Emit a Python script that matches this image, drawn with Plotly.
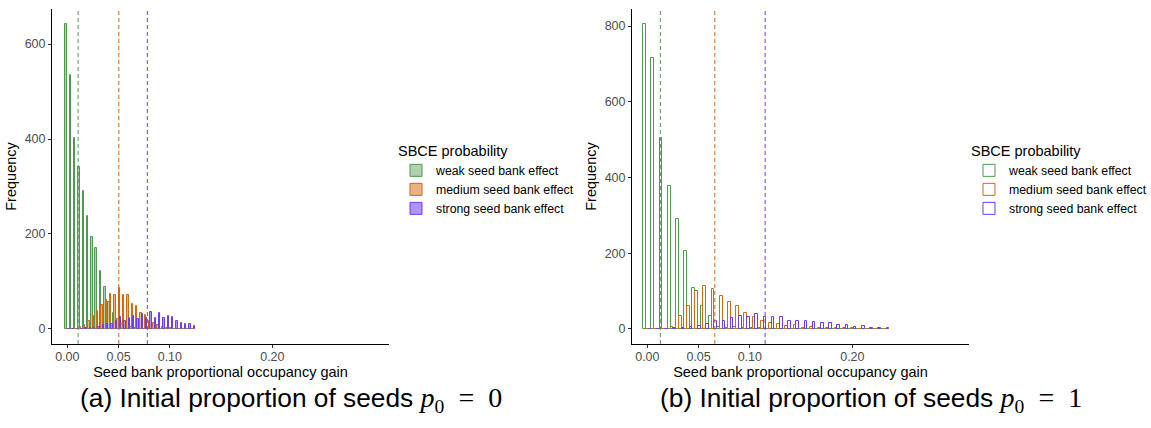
import plotly.graph_objects as go

# ---------------- data ----------------
series_names = ["weak seed bank effect", "medium seed bank effect", "strong seed bank effect"]

# panel (a): initial proportion of seeds p0 = 0
bin_width_a = 0.00422
n_bins_a = 30
weak_a = [643, 534, 402, 341, 291, 237, 194, 170, 122, 88, 57, 34, 20, 10, 6,
          3, 2, 1, 0, 0, 0, 0, 0, 0, 0, 0, 0, 0, 0, 0]
medium_a = [0, 0, 0, 3, 8, 16, 28, 37, 50, 60, 73, 72, 86, 72, 72,
            52, 49, 34, 29, 16, 13, 7, 3, 2, 1, 0, 0, 0, 0, 0]
strong_a = [0, 0, 0, 0, 1, 1, 2, 4, 7, 10, 11, 16, 24, 17, 22,
            27, 21, 31, 23, 35, 22, 34, 23, 26, 24, 17, 13, 10, 10, 5]
means_a = [0.0105, 0.0502, 0.078]

# panel (b): initial proportion of seeds p0 = 1
bin_width_b = 0.008
n_bins_b = 30
weak_b = [805, 715, 504, 378, 290, 207, 109, 61, 33, 5, 3, 4, 3, 1, 1,
          0, 0, 0, 0, 0, 0, 0, 0, 0, 0, 0, 0, 0, 0, 0]
medium_b = [0, 0, 0, 5, 33, 61, 99, 112, 105, 88, 70, 61, 41, 31, 20,
            15, 13, 7, 9, 3, 4, 3, 2, 2, 1, 1, 0, 0, 0, 0]
strong_b = [0, 0, 0, 1, 2, 4, 7, 12, 20, 22, 28, 35, 32, 39, 31,
            31, 32, 22, 21, 20, 18, 15, 15, 9, 10, 4, 7, 3, 3, 3]
means_b = [0.0127, 0.0658, 0.1149]

x_tickvals = [0.0, 0.05, 0.10, 0.20]
x_ticktext = ["0.00", "0.05", "0.10", "0.20"]
y_ticks_a = [0, 200, 400, 600]
y_ticks_b = [0, 200, 400, 600, 800]

captions = ["(a) Initial proportion of seeds ", "(b) Initial proportion of seeds "]
caption_math = ["0", "1"]

# ---------------- style ----------------
line_colors = ["#4f9a4f", "#d4680f", "#6b3cff"]
fill_colors_a = ["rgba(79,154,79,0.45)", "rgba(212,104,15,0.5)", "rgba(107,60,255,0.55)"]
fill_colors_b = ["rgba(255,255,255,0)"] * 3

W, H = 1151, 428
FONT = "Liberation Sans, Arial, Helvetica, sans-serif"

fig = go.Figure()

panels = [
    (bin_width_a, n_bins_a, [weak_a, medium_a, strong_a], fill_colors_a, "x", "y", "legend"),
    (bin_width_b, n_bins_b, [weak_b, medium_b, strong_b], fill_colors_b, "x2", "y2", "legend2"),
]
for bw, nb, vals, fills, xa, ya, lg in panels:
    centers = [i * bw for i in range(nb)]
    for name, v, lc, fc in zip(series_names, vals, line_colors, fills):
        fig.add_trace(go.Bar(
            x=centers, y=v, name=name, xaxis=xa, yaxis=ya, legend=lg,
            marker=dict(color=fc, line=dict(color=lc, width=1)),
        ))

# dashed mean lines
for means, xr, yr in [(means_a, "x", "y domain"), (means_b, "x2", "y2 domain")]:
    for m, c in zip(means, line_colors):
        fig.add_shape(type="line", xref=xr, yref=yr, x0=m, x1=m, y0=0, y1=1,
                      line=dict(color=c, width=1, dash="4px,3px"))

def px_x(p):
    return p / W

def px_y(p):
    return 1 - p / H

xaxis_common = dict(
    range=[-0.0150, 0.3138], tickvals=x_tickvals, ticktext=x_ticktext,
    showline=True, linecolor="black", linewidth=1, mirror=False,
    ticks="outside", ticklen=3, tickcolor="#333333", tickwidth=1,
    tickfont=dict(size=12.5, color="#4d4d4d", family=FONT),
    ticklabelstandoff=-2,
    showgrid=False, zeroline=False,
    title=dict(text="Seed bank proportional occupancy gain",
               font=dict(size=14.5, color="black", family=FONT), standoff=2),
)
yaxis_common = dict(
    showline=True, linecolor="black", linewidth=1,
    ticks="outside", ticklen=3, tickcolor="#333333", tickwidth=1,
    tickfont=dict(size=12.5, color="#4d4d4d", family=FONT),
    showgrid=False, zeroline=False,
    title=dict(text="Frequency", font=dict(size=14.5, color="black", family=FONT), standoff=4),
)

legend_common = dict(
    xanchor="left", yanchor="top",
    title=dict(text="SBCE probability", font=dict(size=14.5, family=FONT), side="top"),
    font=dict(size=12.3, family=FONT), bgcolor="rgba(0,0,0,0)", tracegroupgap=0,
)

fig.update_layout(
    width=W, height=H,
    margin=dict(l=0, r=0, t=0, b=0, autoexpand=False),
    paper_bgcolor="white", plot_bgcolor="white",
    barmode="group", bargap=0, bargroupgap=0,
    font=dict(family=FONT, color="black"),
    xaxis=dict(domain=[px_x(52), px_x(389)], anchor="y", **xaxis_common),
    yaxis=dict(domain=[px_y(344), px_y(9)], anchor="x", range=[-32, 674],
               tickvals=y_ticks_a, **yaxis_common),
    xaxis2=dict(domain=[px_x(632), px_x(969)], anchor="y2", **xaxis_common),
    yaxis2=dict(domain=[px_y(344), px_y(9)], anchor="x2", range=[-40, 845],
                tickvals=y_ticks_b, **yaxis_common),
    legend=dict(x=px_x(396), y=px_y(137), **legend_common),
    legend2=dict(x=px_x(969), y=px_y(137), **legend_common),
    showlegend=True,
)

math_style = "font-family:'Liberation Serif','DejaVu Serif',serif;font-size:28px"
for txt, val, cx in zip(captions, caption_math, [291, 871]):
    fig.add_annotation(
        xref="paper", yref="paper", x=px_x(cx), y=px_y(399),
        xanchor="center", yanchor="middle", showarrow=False,
        text=(txt + f"<span style=\"{math_style}\"><i>p</i><sub>0</sub>"
              f"&nbsp;&nbsp;=&nbsp;&nbsp;{val}</span>"),
        font=dict(size=26.3, color="black", family=FONT),
    )

fig.write_html("out.html", config={"displayModeBar": False},
               post_script="document.body.style.margin='0';")
